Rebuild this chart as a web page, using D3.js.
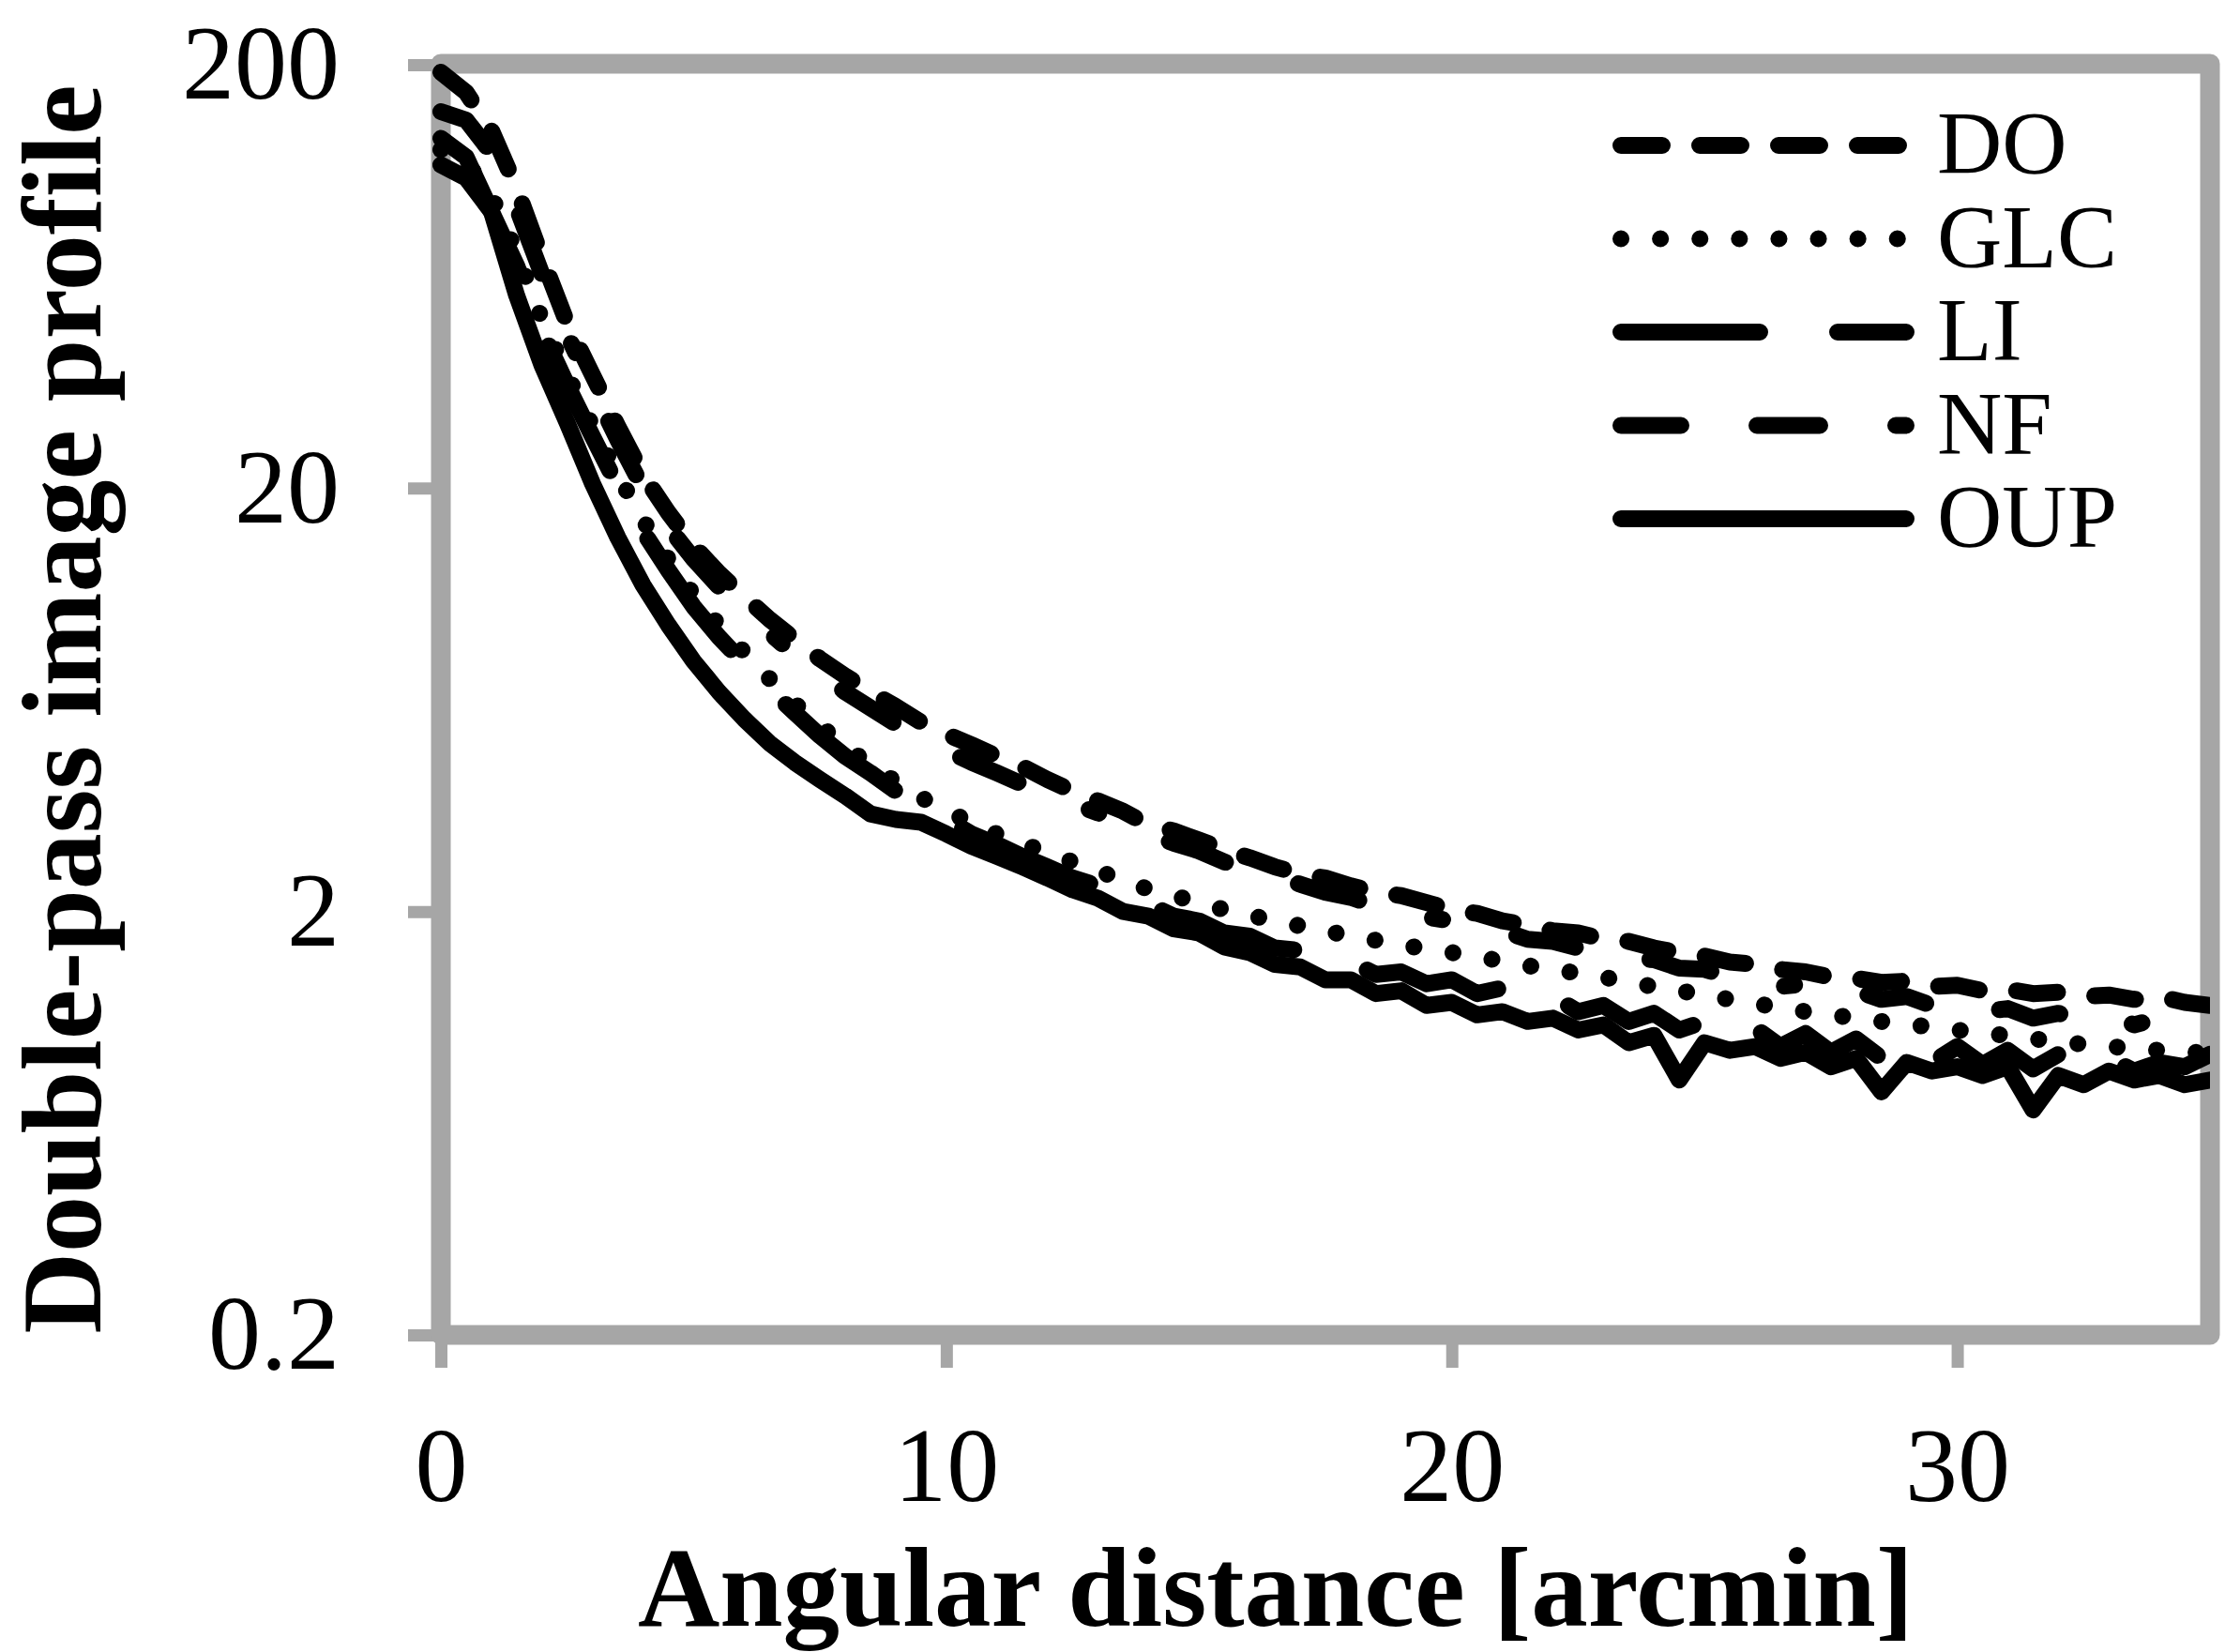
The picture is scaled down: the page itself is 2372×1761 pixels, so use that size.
<!DOCTYPE html>
<html>
<head>
<meta charset="utf-8">
<script src="https://cdn.jsdelivr.net/npm/d3@7"></script>
<style>
  html, body { margin: 0; padding: 0; background: #ffffff; }
  svg { display: block; }
</style>
</head>
<body>
<svg id="chart" width="2372" height="1761"></svg>
<script>
// ---------------- DATA ----------------
const xValues = [0,0.5,1,1.5,2,2.5,3,3.5,4,4.5,5,5.5,6,6.5,7,7.5,8,8.5,9,9.5,10,10.5,11,11.5,12,12.5,13,13.5,14,14.5,15,15.5,16,16.5,17,17.5,18,18.5,19,19.5,20,20.5,21,21.5,22,22.5,23,23.5,24,24.5,25,25.5,26,26.5,27,27.5,28,28.5,29,29.5,30,30.5,31,31.5,32,32.5,33,33.5,34,34.5,35];

const seriesNames = ["DO", "GLC", "LI", "NF", "OUP"];

const doValues = [192,172,140,102,70,49,37,28,21.5,17.5,14.6,12.6,11.1,9.8,8.8,7.9,7.2,6.6,6.1,5.6,5.25,4.95,4.65,4.4,4.1,3.85,3.65,3.45,3.2,3.1,2.95,2.8,2.68,2.55,2.45,2.4,2.3,2.22,2.18,2.1,2.02,1.98,1.9,1.86,1.8,1.78,1.72,1.7,1.64,1.6,1.57,1.52,1.5,1.46,1.44,1.4,1.39,1.36,1.37,1.33,1.34,1.3,1.31,1.28,1.29,1.26,1.27,1.24,1.26,1.22,1.2];

const glcValues = [126,118,98,72,50,37,28,21.5,16.8,13.6,11.2,9.5,8.2,7.1,6.2,5.5,4.9,4.45,4.05,3.72,3.45,3.25,3.05,2.9,2.75,2.62,2.5,2.36,2.26,2.18,2.1,2.02,1.96,1.9,1.85,1.8,1.75,1.71,1.67,1.63,1.6,1.56,1.53,1.49,1.46,1.43,1.4,1.36,1.33,1.3,1.27,1.24,1.21,1.19,1.16,1.14,1.12,1.1,1.08,1.07,1.05,1.03,1.02,1.0,0.99,0.97,0.96,0.95,0.94,0.93,0.93];

const liValues = [116,108,90,67,47,35,26.5,20.2,15.8,12.8,10.5,8.9,7.7,6.7,5.9,5.2,4.65,4.25,3.85,3.55,3.3,3.05,2.88,2.7,2.55,2.4,2.3,2.15,2.08,1.95,1.9,1.78,1.75,1.64,1.62,1.52,1.52,1.42,1.44,1.35,1.38,1.28,1.32,1.22,1.26,1.16,1.2,1.1,1.15,1.05,1.1,1.0,1.06,0.96,1.03,0.93,1.0,0.9,0.98,0.88,0.96,0.87,0.94,0.85,0.92,0.84,0.9,0.84,0.88,0.86,0.92];

const nfValues = [155,148,124,92,64,46,34.5,26,20,16.2,13.6,11.7,10.2,9.1,8.1,7.3,6.6,6.05,5.55,5.15,4.8,4.5,4.25,4.0,3.8,3.6,3.42,3.22,3.05,2.9,2.78,2.62,2.52,2.4,2.32,2.22,2.16,2.06,2.02,1.94,1.9,1.84,1.8,1.72,1.7,1.64,1.62,1.55,1.54,1.47,1.46,1.4,1.4,1.33,1.35,1.28,1.3,1.24,1.26,1.2,1.22,1.16,1.18,1.12,1.15,1.1,1.14,1.08,1.12,1.12,1.18];

const oupValues = [134,121,90,57,39,28.5,20.5,15.3,11.8,9.5,7.8,6.6,5.7,5.0,4.5,4.1,3.75,3.4,3.3,3.25,3.05,2.85,2.7,2.55,2.4,2.25,2.15,2.0,1.95,1.82,1.78,1.65,1.6,1.5,1.48,1.38,1.38,1.28,1.3,1.2,1.22,1.14,1.16,1.1,1.12,1.05,1.08,0.98,1.02,0.8,0.98,0.94,0.96,0.9,0.93,0.86,0.9,0.75,0.88,0.84,0.86,0.82,0.86,0.68,0.82,0.78,0.84,0.8,0.82,0.78,0.8];

const yTickValues = [0.2, 2, 20, 200];
const yTickLabels = ["0.2", "2", "20", "200"];
const xTickValues = [0, 10, 20, 30];
const xTickLabels = ["0", "10", "20", "30"];
const xTitle = "Angular distance [arcmin]";
const yTitle = "Double-pass image profile";

// ---------------- STYLE ----------------
const seriesValues = [doValues, glcValues, liValues, nfValues, oupValues];
const dashes = ["44,40", "0.1,42", "148,83", "64,81,67,81,11,81", null];
const gray = "#a6a6a6";
const serif = "'Liberation Serif', 'Times New Roman', serif";
const lineW = 18;

const svg = d3.select("#chart");
const x = d3.scaleLinear().domain([0, 35]).range([470, 2356]);
const y = d3.scaleLog().domain([0.2, 200]).range([1423, 69]);

// axes (ticks + labels)
const yAxis = d3.axisLeft(y).tickValues(yTickValues)
  .tickFormat((d, i) => yTickLabels[i]).tickSize(35).tickPadding(73);
const gy = svg.append("g").attr("transform", `translate(${x(0)},0)`).call(yAxis);
const xAxis = d3.axisBottom(x).tickValues(xTickValues)
  .tickFormat((d, i) => xTickLabels[i]).tickSize(35).tickPadding(62);
const gx = svg.append("g").attr("transform", `translate(0,${y(0.2)})`).call(xAxis);
[gy, gx].forEach(g => {
  g.select(".domain").remove();
  g.selectAll(".tick line").attr("stroke", gray).attr("stroke-width", 13);
  g.selectAll(".tick text").attr("fill", "#000").style("font-family", serif).style("font-size", "112px");
});

// frame
svg.append("rect")
  .attr("x", x(0)).attr("y", y(200) - 1)
  .attr("width", x(35) - x(0)).attr("height", y(0.2) - y(200) + 1)
  .attr("fill", "none").attr("stroke", gray).attr("stroke-width", 21)
  .attr("stroke-linejoin", "round");

// clip
svg.append("clipPath").attr("id", "plotclip").append("rect")
  .attr("x", 440).attr("y", 40).attr("width", x(35) - 440).attr("height", y(0.2) - 40);

const line = d3.line().x((d, i) => x(xValues[i])).y(d => y(d));
const plot = svg.append("g").attr("clip-path", "url(#plotclip)");
seriesNames.forEach((name, k) => {
  plot.append("path")
    .datum(seriesValues[k])
    .attr("d", line)
    .attr("fill", "none")
    .attr("stroke", "#000")
    .attr("stroke-width", lineW)
    .attr("stroke-linecap", "round")
    .attr("stroke-linejoin", "round")
    .attr("stroke-dasharray", dashes[k]);
});

// legend
const legend = svg.append("g");
seriesNames.forEach((name, k) => {
  const ly = 155 + k * 99.5;
  legend.append("line")
    .attr("x1", 1728).attr("x2", 2032).attr("y1", ly).attr("y2", ly)
    .attr("stroke", "#000").attr("stroke-width", lineW)
    .attr("stroke-linecap", "round")
    .attr("stroke-dasharray", dashes[k]);
  legend.append("text")
    .attr("x", 2065).attr("y", ly + 30)
    .style("font-family", serif).style("font-size", "96px")
    .text(name);
});

// titles
svg.append("text")
  .attr("x", 1360).attr("y", 1733)
  .attr("text-anchor", "middle")
  .style("font-family", serif).style("font-size", "121px").style("font-weight", "bold")
  .text(xTitle);
svg.append("text")
  .attr("transform", "translate(107,756) rotate(-90)")
  .attr("text-anchor", "middle")
  .style("font-family", serif).style("font-size", "120px").style("font-weight", "bold")
  .text(yTitle);
</script>
</body>
</html>
